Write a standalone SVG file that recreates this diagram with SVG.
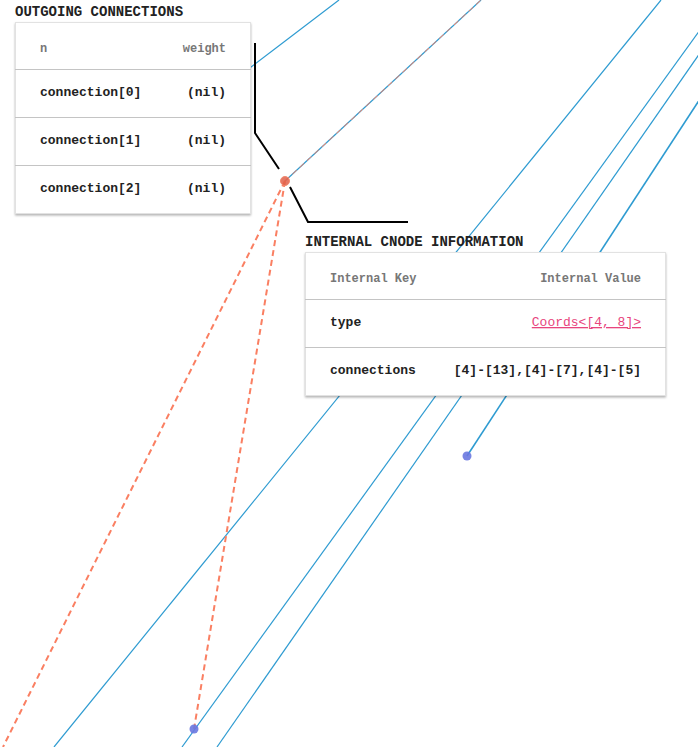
<svg xmlns="http://www.w3.org/2000/svg" width="698" height="747" viewBox="0 0 698 747">
<style>
.blue{stroke:#2e9bd1;stroke-width:1.2;fill:none}
.dash{stroke:#fa7f62;stroke-width:2;stroke-dasharray:6 4;fill:none}
.call{stroke:#000;stroke-width:2;fill:none}
.title{font-family:"Liberation Mono",monospace;font-weight:bold;font-size:14px;fill:#222}
.hd{font-family:"Liberation Mono",monospace;font-weight:bold;font-size:12px;fill:#777}
.cell{font-family:"Liberation Mono",monospace;font-weight:bold;font-size:13px;fill:#222}
.link{font-family:"Liberation Mono",monospace;font-size:13px;fill:#e8457d;text-decoration:underline}
.box{fill:#fff;stroke:#e2e2e2;stroke-width:1}
.sep{stroke:#c4c4c4;stroke-width:1}
</style>
<defs>
<filter id="sh" x="-10%" y="-10%" width="120%" height="125%">
<feDropShadow dx="0" dy="1.5" stdDeviation="1.2" flood-color="#000" flood-opacity="0.3"/>
</filter>
</defs>
<rect width="698" height="747" fill="#fff"/>
<g id="connectors">
<line class="blue" x1="339" y1="0" x2="200" y2="106"/>
<line class="blue" x1="285" y1="181" x2="481" y2="0"/>
<line class="blue" x1="661" y1="0" x2="54" y2="747"/>
<line class="blue" x1="700" y1="30" x2="182" y2="747"/>
<line class="blue" x1="700" y1="53" x2="217" y2="747"/>
<line class="blue" x1="700" y1="99" x2="467" y2="456" style="stroke-width:1.6"/>
<line class="dash" x1="285" y1="181" x2="481" y2="0" style="stroke-width:1"/>
<line class="dash" x1="285" y1="181" x2="3" y2="747"/>
<line class="dash" x1="285" y1="181" x2="194" y2="729"/>
<polyline class="call" points="255,43 255,133 279,169"/>
<polyline class="call" points="290,187 308,222 408,222"/>
</g>
<g id="node-red"><circle cx="285" cy="181" r="4.5" fill="#e0604a" fill-opacity="0.85" stroke="#f08a70" stroke-width="1"/></g>
<g id="node-blue1"><circle cx="467" cy="456" r="4.5" fill="#6a78e0" fill-opacity="0.9"/></g>
<g id="node-blue2"><circle cx="194" cy="729" r="4.5" fill="#6a78e0" fill-opacity="0.9"/></g>
<g id="outgoing-table">
<text class="title" x="15" y="16">OUTGOING CONNECTIONS</text>
<rect class="box" x="15.5" y="22.5" width="235" height="191" filter="url(#sh)"/>
<text class="hd" x="40" y="51.5">n</text>
<text class="hd" x="226" y="51.5" text-anchor="end">weight</text>
<line class="sep" x1="15" y1="69.5" x2="251" y2="69.5"/>
<text class="cell" x="40" y="96">connection[0]</text>
<text class="cell" x="226" y="96" text-anchor="end">(nil)</text>
<line class="sep" x1="15" y1="117.5" x2="251" y2="117.5"/>
<text class="cell" x="40" y="144">connection[1]</text>
<text class="cell" x="226" y="144" text-anchor="end">(nil)</text>
<line class="sep" x1="15" y1="165.5" x2="251" y2="165.5"/>
<text class="cell" x="40" y="192">connection[2]</text>
<text class="cell" x="226" y="192" text-anchor="end">(nil)</text>
</g>
<g id="internal-table">
<text class="title" x="305" y="246">INTERNAL CNODE INFORMATION</text>
<rect class="box" x="305.5" y="252.5" width="360" height="143" filter="url(#sh)"/>
<text class="hd" x="330" y="282">Internal Key</text>
<text class="hd" x="641" y="282" text-anchor="end">Internal Value</text>
<line class="sep" x1="305" y1="299.5" x2="666" y2="299.5"/>
<text class="cell" x="330" y="326">type</text>
<text class="link" x="641" y="326" text-anchor="end">Coords&lt;[4, 8]&gt;</text>
<line class="sep" x1="305" y1="347.5" x2="666" y2="347.5"/>
<text class="cell" x="330" y="374">connections</text>
<text class="cell" x="641" y="374" text-anchor="end">[4]-[13],[4]-[7],[4]-[5]</text>
</g>
</svg>
